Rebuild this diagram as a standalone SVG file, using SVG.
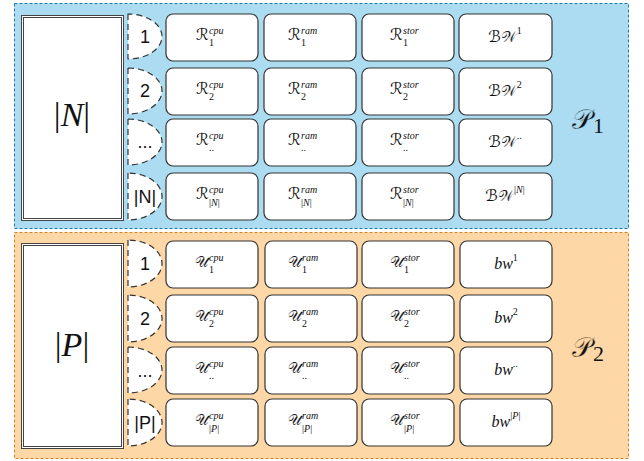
<svg xmlns="http://www.w3.org/2000/svg" width="644" height="461" viewBox="0 0 644 461">
<style>
.cell{fill:#fff;stroke:#333;stroke-width:1.2}
.half{fill:#fff;stroke:#333;stroke-width:1.2;stroke-dasharray:6 4}
.big{fill:#fff;stroke:#444;stroke-width:1}
.num{font-family:"Liberation Sans",Arial,sans-serif;font-size:18px;fill:#111;text-anchor:middle}
.m{font-family:"DejaVu Sans",sans-serif;font-size:16px;fill:#111}
.u{font-family:"DejaVu Sans",sans-serif;font-size:15px;fill:#111;stroke:#fff;stroke-width:0.12}
.sp{font-family:"Liberation Serif",serif;font-style:italic;font-size:10px;fill:#111}
.sb{font-family:"Liberation Serif",serif;font-style:normal;font-size:10px;fill:#111}
.bw{font-family:"Liberation Serif",serif;font-style:italic;font-size:16px;fill:#111;text-anchor:middle}
.bwm{font-family:"DejaVu Sans",sans-serif;font-size:16px;fill:#111;text-anchor:middle}
.w{font-size:15px;stroke:#fff;stroke-width:0.12}
.lbl{font-family:"Liberation Serif",serif;font-size:34px;fill:#111;text-anchor:middle}
.pl{font-family:"DejaVu Sans",sans-serif;font-size:28px;fill:#111;stroke:#abdcf1;stroke-width:0.4}
.ps{font-family:"Liberation Serif",serif;font-size:22px;fill:#111}
</style>
<g id="panel1">
<rect x="14.5" y="3.5" width="614" height="225" fill="#abdcf1" stroke="#1b78b0" stroke-width="1" stroke-dasharray="3 2"/>
</g>
<g id="panel2">
<rect x="14.5" y="232.5" width="614" height="226" fill="#fdd7a5" stroke="#e07d1c" stroke-width="1" stroke-dasharray="3 2"/>
</g>
<g id="N-box">
<rect class="big" x="21.5" y="15.5" width="102" height="205"/>
<rect class="big" x="23.5" y="17.5" width="98" height="201"/>
<text class="lbl" x="72" y="126">|<tspan font-style="italic">N</tspan>|</text>
</g>
<g id="P-box">
<rect class="big" x="21.5" y="243.5" width="102" height="205"/>
<rect class="big" x="23.5" y="245.5" width="98" height="201"/>
<text class="lbl" x="72" y="356">|<tspan font-style="italic">P</tspan>|</text>
</g>
<g id="P1-label"><text class="pl" x="572" y="129">𝒫</text><text class="ps" x="593" y="133">1</text></g>
<g id="P2-label"><text class="pl" x="572" y="357" style="stroke:#fdd7a5">𝒫</text><text class="ps" x="593" y="361">2</text></g>

<g id="n-index">
<path class="half" d="M128,14 L128,59 A34,22.5 0 0 0 128,14 Z"/>
<text class="num" x="145" y="43">1</text>
<path class="half" d="M128,68 L128,114 A34,23 0 0 0 128,68 Z"/>
<text class="num" x="145" y="97">2</text>
<path class="half" d="M128,119 L128,165 A34,23 0 0 0 128,119 Z"/>
<text class="num" x="145" y="148">...</text>
<path class="half" d="M128,173 L128,220 A34,23.5 0 0 0 128,173 Z"/>
<text class="num" x="145" y="203">|N|</text>
</g>
<g id="p-index">
<path class="half" d="M128,240 L128,287 A34,23.5 0 0 0 128,240 Z"/>
<text class="num" x="145" y="270">1</text>
<path class="half" d="M128,295 L128,342 A34,23.5 0 0 0 128,295 Z"/>
<text class="num" x="145" y="325">2</text>
<path class="half" d="M128,347 L128,393 A34,23 0 0 0 128,347 Z"/>
<text class="num" x="145" y="377">...</text>
<path class="half" d="M128,399 L128,446 A34,23.5 0 0 0 128,399 Z"/>
<text class="num" x="145" y="429">|P|</text>
</g>

<g id="R-cells">
<rect class="cell" x="166" y="14" width="92" height="47" rx="7"/>
<rect class="cell" x="264" y="14" width="92" height="47" rx="7"/>
<rect class="cell" x="362" y="14" width="92" height="47" rx="7"/>
<rect class="cell" x="459" y="14" width="93" height="47" rx="7"/>
<rect class="cell" x="166" y="68" width="92" height="47" rx="7"/>
<rect class="cell" x="264" y="68" width="92" height="47" rx="7"/>
<rect class="cell" x="362" y="68" width="92" height="47" rx="7"/>
<rect class="cell" x="459" y="68" width="93" height="47" rx="7"/>
<rect class="cell" x="166" y="119" width="92" height="47" rx="7"/>
<rect class="cell" x="264" y="119" width="92" height="47" rx="7"/>
<rect class="cell" x="362" y="119" width="92" height="47" rx="7"/>
<rect class="cell" x="459" y="119" width="93" height="47" rx="7"/>
<rect class="cell" x="166" y="173" width="92" height="47" rx="7"/>
<rect class="cell" x="264" y="173" width="92" height="47" rx="7"/>
<rect class="cell" x="362" y="173" width="92" height="47" rx="7"/>
<rect class="cell" x="459" y="173" width="93" height="47" rx="7"/>
</g>
<g id="R-text">
<text class="m" x="196" y="40">ℛ</text><text class="sp" x="209" y="34">cpu</text><text class="sb" x="209" y="46">1</text>
<text class="m" x="288" y="40">ℛ</text><text class="sp" x="301" y="34">ram</text><text class="sb" x="301" y="46">1</text>
<text class="m" x="390" y="40">ℛ</text><text class="sp" x="403" y="34">stor</text><text class="sb" x="403" y="46">1</text>
<text class="bwm" x="505" y="42">ℬ<tspan class="w">𝒲</tspan><tspan class="sb" dy="-8">1</tspan></text>

<text class="m" x="196" y="94">ℛ</text><text class="sp" x="209" y="88">cpu</text><text class="sb" x="209" y="100">2</text>
<text class="m" x="288" y="94">ℛ</text><text class="sp" x="301" y="88">ram</text><text class="sb" x="301" y="100">2</text>
<text class="m" x="390" y="94">ℛ</text><text class="sp" x="403" y="88">stor</text><text class="sb" x="403" y="100">2</text>
<text class="bwm" x="505" y="96">ℬ<tspan class="w">𝒲</tspan><tspan class="sb" dy="-8">2</tspan></text>

<text class="m" x="196" y="145">ℛ</text><text class="sp" x="209" y="139">cpu</text><text class="sb" x="209" y="151">..</text>
<text class="m" x="288" y="145">ℛ</text><text class="sp" x="301" y="139">ram</text><text class="sb" x="301" y="151">..</text>
<text class="m" x="390" y="145">ℛ</text><text class="sp" x="403" y="139">stor</text><text class="sb" x="403" y="151">..</text>
<text class="bwm" x="505" y="147">ℬ<tspan class="w">𝒲</tspan><tspan class="sb" dy="-8">..</tspan></text>

<text class="m" x="196" y="199">ℛ</text><text class="sp" x="209" y="193">cpu</text><text class="sb" x="209" y="206">|<tspan font-style="italic">N</tspan>|</text>
<text class="m" x="288" y="199">ℛ</text><text class="sp" x="301" y="193">ram</text><text class="sb" x="301" y="206">|<tspan font-style="italic">N</tspan>|</text>
<text class="m" x="390" y="199">ℛ</text><text class="sp" x="403" y="193">stor</text><text class="sb" x="403" y="206">|<tspan font-style="italic">N</tspan>|</text>
<text class="bwm" x="505" y="201">ℬ<tspan class="w">𝒲</tspan><tspan class="sb" dy="-8">|<tspan font-style="italic">N</tspan>|</tspan></text>
</g>

<g id="U-cells">
<rect class="cell" x="166" y="241" width="92" height="47" rx="7"/>
<rect class="cell" x="265" y="241" width="92" height="47" rx="7"/>
<rect class="cell" x="362" y="241" width="92" height="47" rx="7"/>
<rect class="cell" x="460" y="241" width="92" height="47" rx="7"/>
<rect class="cell" x="166" y="295" width="92" height="47" rx="7"/>
<rect class="cell" x="265" y="295" width="92" height="47" rx="7"/>
<rect class="cell" x="362" y="295" width="92" height="47" rx="7"/>
<rect class="cell" x="460" y="295" width="92" height="47" rx="7"/>
<rect class="cell" x="166" y="347" width="92" height="47" rx="7"/>
<rect class="cell" x="265" y="347" width="92" height="47" rx="7"/>
<rect class="cell" x="362" y="347" width="92" height="47" rx="7"/>
<rect class="cell" x="460" y="347" width="92" height="47" rx="7"/>
<rect class="cell" x="166" y="399" width="92" height="47" rx="7"/>
<rect class="cell" x="265" y="399" width="92" height="47" rx="7"/>
<rect class="cell" x="362" y="399" width="92" height="47" rx="7"/>
<rect class="cell" x="460" y="399" width="92" height="47" rx="7"/>
</g>
<g id="U-text">
<text class="u" x="195" y="267">𝒰</text><text class="sp" x="209" y="261">cpu</text><text class="sb" x="209" y="273">1</text>
<text class="u" x="288" y="267">𝒰</text><text class="sp" x="302" y="261">ram</text><text class="sb" x="302" y="273">1</text>
<text class="u" x="390" y="267">𝒰</text><text class="sp" x="404" y="261">stor</text><text class="sb" x="404" y="273">1</text>
<text class="bw" x="506" y="269">bw<tspan class="sb" dy="-8">1</tspan></text>

<text class="u" x="195" y="321">𝒰</text><text class="sp" x="209" y="315">cpu</text><text class="sb" x="209" y="327">2</text>
<text class="u" x="288" y="321">𝒰</text><text class="sp" x="302" y="315">ram</text><text class="sb" x="302" y="327">2</text>
<text class="u" x="390" y="321">𝒰</text><text class="sp" x="404" y="315">stor</text><text class="sb" x="404" y="327">2</text>
<text class="bw" x="506" y="323">bw<tspan class="sb" dy="-8">2</tspan></text>

<text class="u" x="195" y="373">𝒰</text><text class="sp" x="209" y="367">cpu</text><text class="sb" x="209" y="379">..</text>
<text class="u" x="288" y="373">𝒰</text><text class="sp" x="302" y="367">ram</text><text class="sb" x="302" y="379">..</text>
<text class="u" x="390" y="373">𝒰</text><text class="sp" x="404" y="367">stor</text><text class="sb" x="404" y="379">..</text>
<text class="bw" x="506" y="375">bw<tspan class="sb" dy="-8">..</tspan></text>

<text class="u" x="195" y="425">𝒰</text><text class="sp" x="209" y="419">cpu</text><text class="sb" x="209" y="432">|<tspan font-style="italic">P</tspan>|</text>
<text class="u" x="288" y="425">𝒰</text><text class="sp" x="302" y="419">ram</text><text class="sb" x="302" y="432">|<tspan font-style="italic">P</tspan>|</text>
<text class="u" x="390" y="425">𝒰</text><text class="sp" x="404" y="419">stor</text><text class="sb" x="404" y="432">|<tspan font-style="italic">P</tspan>|</text>
<text class="bw" x="506" y="427">bw<tspan class="sb" dy="-8">|<tspan font-style="italic">P</tspan>|</tspan></text>
</g>
<g id="connectors"></g>
</svg>
